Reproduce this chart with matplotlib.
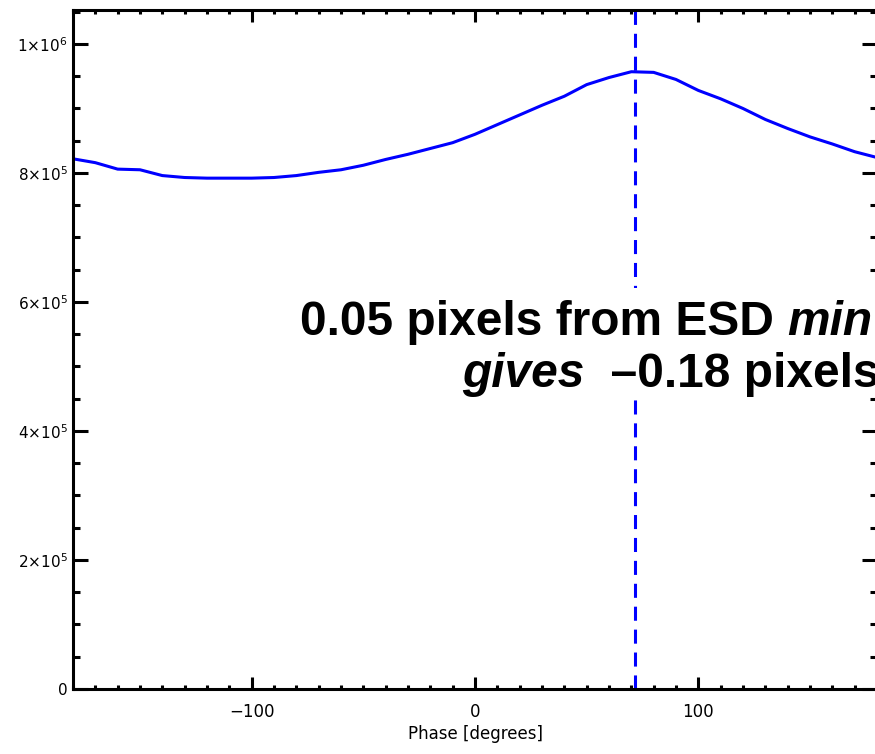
import matplotlib
matplotlib.use("Agg")
import matplotlib.pyplot as plt
from matplotlib.ticker import MultipleLocator, FuncFormatter
from matplotlib.patches import Rectangle

# phase (degrees) and intensity
phase = [-180, -170, -160, -150, -140, -130, -120, -110, -100, -90, -80, -70,
         -60, -50, -40, -30, -20, -10, 0, 10, 20, 30, 40, 50, 60, 70, 80,
         90, 100, 110, 120, 130, 140, 150, 160, 170, 180]
intensity = [8.22e5, 8.16e5, 8.06e5, 8.05e5, 7.96e5, 7.93e5, 7.92e5, 7.92e5,
             7.92e5, 7.93e5, 7.96e5, 8.01e5, 8.05e5, 8.12e5, 8.21e5, 8.29e5,
             8.38e5, 8.47e5, 8.60e5, 8.75e5, 8.90e5, 9.05e5, 9.19e5, 9.37e5,
             9.48e5, 9.57e5, 9.56e5, 9.45e5, 9.28e5, 9.15e5, 9.00e5, 8.83e5,
             8.69e5, 8.56e5, 8.45e5, 8.33e5, 8.24e5]
peak_phase = 71.6

line1 = ["0.05 pixels from ESD ", "min"]
line2 = ["gives", "  \u20130.18 pixels"]

W, H = 875, 754
fig = plt.figure(figsize=(W / 100, H / 100), dpi=100)
ax = fig.add_axes([73 / W, 1 - 689 / H, (877 - 73) / W, (689 - 10) / H])

ax.plot(phase, intensity, color="blue", lw=2.2)
ax.axvline(peak_phase, color="blue", lw=2.2, linestyle=(0, (4.6, 2.9)))

ax.set_xlim(-180, 180)
ax.set_ylim(0, 1.0527e6)

ax.xaxis.set_major_locator(MultipleLocator(100))
ax.xaxis.set_minor_locator(MultipleLocator(10))
ax.yaxis.set_major_locator(MultipleLocator(2e5))
ax.yaxis.set_minor_locator(MultipleLocator(5e4))


def sci(v, pos):
    if v == 0:
        return "0"
    exp = 0
    m = v
    while m >= 10:
        m /= 10
        exp += 1
    return r"$%d{\times}10^{%d}$" % (round(m), exp)


ax.yaxis.set_major_formatter(FuncFormatter(sci))
ax.xaxis.set_major_formatter(FuncFormatter(lambda v, p: "\u2212%d" % -v if v < 0 else "%d" % v))

plt.rcParams["mathtext.fontset"] = "dejavusans"
ax.tick_params(axis="both", which="both", direction="in", top=True, right=True, width=2.2, colors="black")
ax.tick_params(axis="y", which="major", length=10.8, pad=4, labelsize=11)
ax.tick_params(axis="y", which="minor", length=5)
ax.tick_params(axis="x", which="major", length=8.6, pad=10, labelsize=12)
ax.tick_params(axis="x", which="minor", length=3.2)
for s in ax.spines.values():
    s.set_linewidth(2.2)

ax.set_xlabel("Phase [degrees]", fontsize=12, labelpad=3)

# white box behind the annotation
fig.patches.append(Rectangle((290 / W, 1 - 396 / H), 600 / W, 108 / H,
                             transform=fig.transFigure, facecolor="white",
                             edgecolor="none", zorder=5))

fs = 34.5
base1, base2 = 335, 387
t = fig.text(300 / W, 1 - base1 / H, line1[0], fontsize=fs, fontweight="bold",
             family="Liberation Sans", va="baseline", zorder=6)
fig.canvas.draw()
bb = t.get_window_extent()
fig.text(bb.x1 / W, 1 - base1 / H, line1[1], fontsize=fs, fontweight="bold",
         style="italic", family="Liberation Sans", va="baseline", zorder=6)
t2 = fig.text(462 / W, 1 - base2 / H, line2[0], fontsize=fs, fontweight="bold",
              style="italic", family="Liberation Sans", va="baseline", zorder=6)
fig.canvas.draw()
bb2 = t2.get_window_extent()
fig.text(bb2.x1 / W, 1 - base2 / H, line2[1], fontsize=fs, fontweight="bold",
         family="Liberation Sans", va="baseline", zorder=6)

fig.savefig("out.png", dpi=100)
